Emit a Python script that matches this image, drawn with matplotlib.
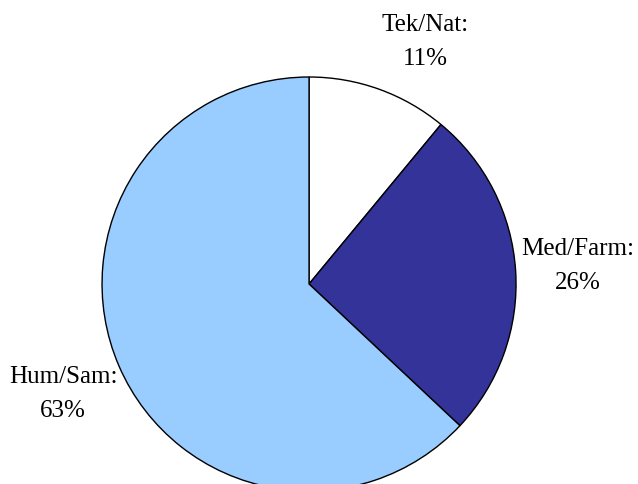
import numpy as np
import matplotlib.pyplot as plt

# datos
etiquetas = ["Tek/Nat:", "Med/Farm:", "Hum/Sam:"]
porcentajes = [11, 26, 63]
colores = ["#FFFFFF", "#333399", "#99CCFF"]

plt.rcParams['font.family'] = ['Liberation Serif', 'DejaVu Serif']

fig = plt.figure(figsize=(6.38, 4.85), dpi=100)
ax = fig.add_axes([0, 0, 1, 1])

textos = [f"{e}\n{p}%" for e, p in zip(etiquetas, porcentajes)]
cunas, txts = ax.pie(porcentajes, labels=textos, colors=colores, startangle=90,
                     counterclock=False, labeldistance=1.30,
                     wedgeprops=dict(edgecolor='black', linewidth=1.0),
                     textprops=dict(fontsize=18, linespacing=1.7))

# ajuste de la posicion de etiquetas (como en Excel)
desfase = [-5.8, 0.5, 0.5]
for t, d in zip(txts, desfase):
    x, y = t.get_position()
    ang = np.arctan2(y, x) + np.radians(d)
    r = np.hypot(x, y)
    t.set_position((r * np.cos(ang), r * np.sin(ang)))
    t.set_ha('center')
    t.set_va('center')

ax.set_aspect('equal')
ax.set_xlim(-1.4928, 1.589)
ax.set_ylim(-0.9662, 1.3768)
ax.axis('off')

fig.savefig("out.png", dpi=100)
